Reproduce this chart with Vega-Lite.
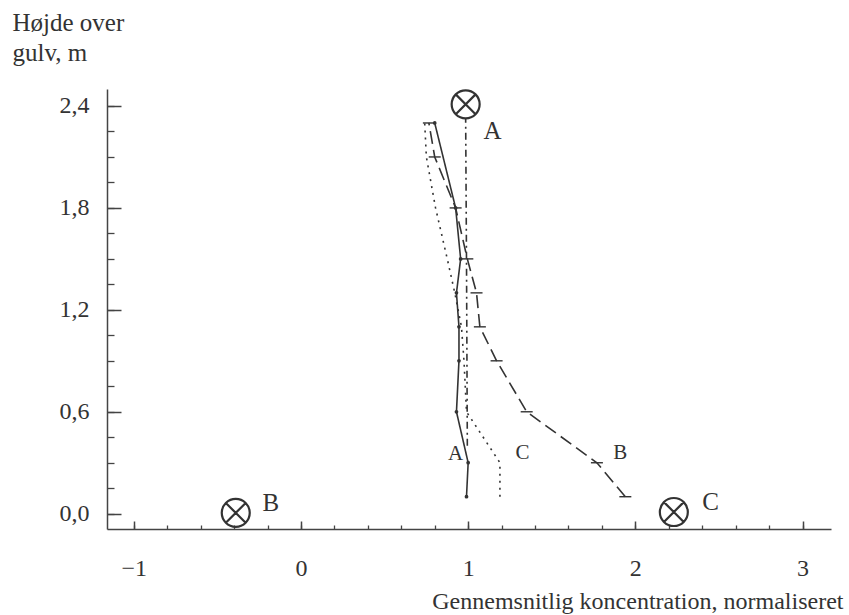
{
  "$schema": "https://vega.github.io/schema/vega-lite/v6.json",
  "autosize": "none",
  "width": 724,
  "height": 440,
  "padding": {"left": 107, "top": 89, "right": 18, "bottom": 86},
  "background": "white",
  "config": {"view": {"stroke": null}, "font": "Liberation Serif"},
  "datasets": {
    "profiles": [
      {"series": "A", "x": 0.99, "h": 0.1},
      {"series": "A", "x": 1.0, "h": 0.3},
      {"series": "A", "x": 0.93, "h": 0.6},
      {"series": "A", "x": 0.945, "h": 0.9},
      {"series": "A", "x": 0.945, "h": 1.1},
      {"series": "A", "x": 0.93, "h": 1.3},
      {"series": "A", "x": 0.955, "h": 1.5},
      {"series": "A", "x": 0.925, "h": 1.8},
      {"series": "A", "x": 0.8, "h": 2.3},
      {"series": "B", "x": 1.94, "h": 0.1},
      {"series": "B", "x": 1.77, "h": 0.3},
      {"series": "B", "x": 1.35, "h": 0.6},
      {"series": "B", "x": 1.17, "h": 0.9},
      {"series": "B", "x": 1.07, "h": 1.1},
      {"series": "B", "x": 1.05, "h": 1.3},
      {"series": "B", "x": 0.995, "h": 1.5},
      {"series": "B", "x": 0.925, "h": 1.8},
      {"series": "B", "x": 0.8, "h": 2.1},
      {"series": "B", "x": 0.765, "h": 2.3},
      {"series": "C", "x": 1.19, "h": 0.1},
      {"series": "C", "x": 1.19, "h": 0.3},
      {"series": "C", "x": 0.99, "h": 0.6},
      {"series": "C", "x": 0.975, "h": 0.9},
      {"series": "C", "x": 0.96, "h": 1.1},
      {"series": "C", "x": 0.92, "h": 1.3},
      {"series": "C", "x": 0.875, "h": 1.5},
      {"series": "C", "x": 0.805, "h": 1.8},
      {"series": "C", "x": 0.75, "h": 2.1},
      {"series": "C", "x": 0.74, "h": 2.3},
      {"series": "D", "x": 0.985, "h": 2.33},
      {"series": "D", "x": 0.99, "h": 1.5},
      {"series": "D", "x": 0.995, "h": 0.4}
    ],
    "sources": [
      {"name": "A", "x": 0.985, "h": 2.41, "lx": 1.146, "lh": 2.25},
      {"name": "B", "x": -0.39, "h": 0.005, "lx": -0.18, "lh": 0.065},
      {"name": "C", "x": 2.23, "h": 0.01, "lx": 2.45, "lh": 0.07}
    ],
    "linelabels": [
      {"name": "A", "x": 0.925, "h": 0.353},
      {"name": "C", "x": 1.325, "h": 0.359},
      {"name": "B", "x": 1.91, "h": 0.359}
    ]
  },
  "resolve": {"axis": {"x": "independent", "y": "independent"}},
  "layer": [
    {
      "data": {"name": "profiles"},
      "mark": {"type": "line", "color": "#333333", "strokeWidth": 1.6},
      "encoding": {
        "x": {
          "field": "x", "type": "quantitative",
          "scale": {"domain": [-1.16, 3.17], "nice": false, "zero": false},
          "axis": {
            "orient": "bottom", "values": [-1, 0, 1, 2, 3], "ticks": false, "grid": false,
            "labelPadding": 39, "labelBaseline": "middle", "labelFont": "Liberation Serif",
            "labelFontSize": 24, "labelColor": "#333333",
            "domainColor": "#444444", "domainWidth": 1.5,
            "title": "Gennemsnitlig koncentration, normaliseret",
            "titleX": 736, "titleY": 79, "titleAlign": "right", "titleAnchor": "end",
            "titleBaseline": "alphabetic", "titleFont": "Liberation Serif",
            "titleFontWeight": "normal", "titleFontSize": 24, "titleColor": "#333333"
          }
        },
        "y": {
          "field": "h", "type": "quantitative",
          "scale": {"domain": [-0.09, 2.5], "nice": false, "zero": false},
          "axis": {
            "orient": "left", "values": [0, 0.6, 1.2, 1.8, 2.4], "ticks": false, "grid": false,
            "labelExpr": "replace(format(datum.value, '.1f'), '.', ',')",
            "labelPadding": 18, "labelBaseline": "middle", "labelFont": "Liberation Serif",
            "labelFontSize": 24, "labelColor": "#333333",
            "domainColor": "#444444", "domainWidth": 1.5,
            "title": ["Højde over", "gulv, m"],
            "titleAngle": 0, "titleX": -95, "titleY": -59, "titleAlign": "left",
            "titleBaseline": "alphabetic", "titleLineHeight": 30,
            "titleFont": "Liberation Serif", "titleFontWeight": "normal",
            "titleFontSize": 25, "titleColor": "#333333"
          }
        },
        "order": {"field": "h", "type": "quantitative"},
        "detail": {"field": "series"},
        "strokeDash": {
          "field": "series", "type": "nominal",
          "scale": {"domain": ["A", "B", "C", "D"], "range": [[1, 0], [13, 6], [2, 5], [7, 4, 2, 4]]},
          "legend": null
        }
      }
    },
    {
      "data": {"name": "sources"},
      "mark": {
        "type": "point",
        "shape": "M1,0A1,1,0,1,1,-1,0A1,1,0,1,1,1,0Z M-0.707,-0.707L0.707,0.707M-0.707,0.707L0.707,-0.707",
        "filled": false, "color": "#333333", "strokeWidth": 2.2, "size": 784, "opacity": 1
      },
      "encoding": {
        "x": {
          "field": "x", "type": "quantitative",
          "axis": {
            "orient": "bottom", "values": [-1, 0, 1, 2, 3], "labels": false, "domain": false,
            "grid": false, "ticks": true, "tickSize": -8, "tickWidth": 1.5,
            "tickColor": "#444444", "title": null
          }
        },
        "y": {
          "field": "h", "type": "quantitative",
          "axis": {
            "orient": "left", "values": [0, 0.6, 1.2, 1.8, 2.4], "labels": false, "domain": false,
            "grid": false, "ticks": true, "tickSize": -14, "tickWidth": 1.5,
            "tickColor": "#444444", "title": null
          }
        }
      }
    },
    {
      "data": {"name": "sources"},
      "mark": {"type": "text", "font": "Liberation Serif", "fontSize": 25, "color": "#333333", "baseline": "middle", "align": "center"},
      "encoding": {
        "x": {
          "field": "lx", "type": "quantitative",
          "axis": {
            "orient": "bottom",
            "values": [-1, -0.8, -0.6, -0.4, -0.2, 0, 0.2, 0.4, 0.6, 0.8, 1, 1.2, 1.4, 1.6, 1.8, 2, 2.2, 2.4, 2.6, 2.8, 3],
            "labels": false, "domain": false, "grid": false, "ticks": true, "tickSize": -4,
            "tickWidth": 1.3, "tickColor": "#444444", "title": null
          }
        },
        "y": {
          "field": "lh", "type": "quantitative",
          "axis": {
            "orient": "left",
            "values": [0, 0.15, 0.3, 0.45, 0.6, 0.75, 0.9, 1.05, 1.2, 1.35, 1.5, 1.65, 1.8, 1.95, 2.1, 2.25, 2.4],
            "labels": false, "domain": false, "grid": false, "ticks": true, "tickSize": -7,
            "tickWidth": 1.3, "tickColor": "#444444", "title": null
          }
        },
        "text": {"field": "name"}
      }
    },
    {
      "data": {"name": "linelabels"},
      "mark": {"type": "text", "font": "Liberation Serif", "fontSize": 21, "color": "#333333", "baseline": "middle", "align": "center"},
      "encoding": {
        "x": {"field": "x", "type": "quantitative", "axis": null},
        "y": {"field": "h", "type": "quantitative", "axis": null},
        "text": {"field": "name"}
      }
    },
    {
      "data": {"name": "profiles"},
      "transform": [{"filter": "datum.series === 'B'"}],
      "mark": {"type": "point", "shape": "M-1,0L1,0", "filled": false, "color": "#333333", "strokeWidth": 1.4, "size": 144, "opacity": 1},
      "encoding": {
        "x": {"field": "x", "type": "quantitative", "axis": null},
        "y": {"field": "h", "type": "quantitative", "axis": null}
      }
    },
    {
      "data": {"name": "profiles"},
      "transform": [{"filter": "datum.series === 'A'"}],
      "mark": {"type": "point", "shape": "circle", "filled": true, "color": "#333333", "size": 14, "opacity": 1},
      "encoding": {
        "x": {"field": "x", "type": "quantitative", "axis": null},
        "y": {"field": "h", "type": "quantitative", "axis": null}
      }
    }
  ]
}
